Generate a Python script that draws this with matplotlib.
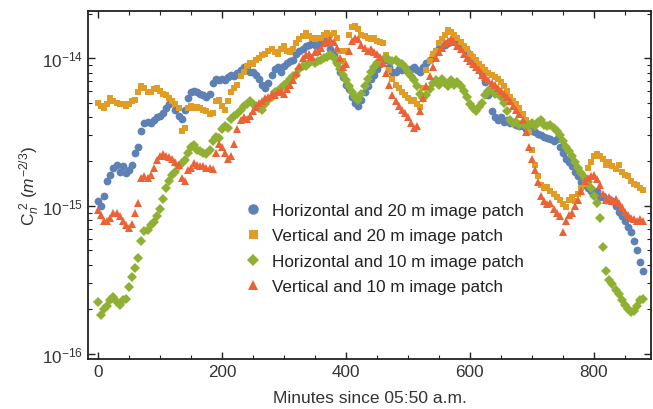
import matplotlib.pyplot as plt
import numpy as np
from matplotlib.ticker import MultipleLocator, FixedLocator, NullFormatter

plt.rcParams['font.family'] = ['Liberation Sans', 'DejaVu Sans']
plt.rcParams['mathtext.fontset'] = 'custom'
plt.rcParams['mathtext.rm'] = 'Liberation Sans'
plt.rcParams['mathtext.it'] = 'Liberation Sans:italic'
plt.rcParams['mathtext.bf'] = 'Liberation Sans:bold'

# sample times (one point every 5 minutes)
minutes = np.arange(0, 885, 5)

# log10 of Cn^2
h20_log = [
    -14.97, -15.00, -14.93, -14.83, -14.79, -14.74, -14.72, -14.77, -14.73, -14.78,
    -14.76, -14.72, -14.64, -14.60, -14.49, -14.44, -14.43, -14.44, -14.42, -14.40,
    -14.39, -14.37, -14.34, -14.31, -14.30, -14.35, -14.39, -14.41, -14.35, -14.27,
    -14.23, -14.22, -14.23, -14.24, -14.25, -14.26,
    -14.24, -14.17, -14.14, -14.15, -14.14, -14.15, -14.13, -14.11, -14.12, -14.10,
    -14.08, -14.06, -14.05, -14.09, -14.09, -14.11, -14.14, -14.18, -14.20, -14.17,
    -14.11, -14.07, -14.06, -14.09, -14.05, -14.03, -14.02, -14.01, -13.97, -13.95,
    -13.94, -13.92, -13.91, -13.90, -13.91, -13.92,
    -13.89, -13.88, -13.89, -13.94, -13.98, -14.03, -14.09, -14.13, -14.18, -14.21,
    -14.26, -14.30, -14.32, -14.28, -14.23, -14.19, -14.14, -14.11, -14.07, -14.04,
    -14.01, -14.01, -14.06, -14.09, -14.09, -14.07, -14.08, -14.07, -14.09, -14.07,
    -14.06, -14.08, -14.09, -14.06, -14.03, -14.01,
    -13.98, -13.95, -13.93, -13.92, -13.91, -13.90, -13.88, -13.88, -13.90, -13.92,
    -13.94, -13.96, -13.98, -14.01, -14.03, -14.06, -14.10, -14.16, -14.25, -14.36,
    -14.40, -14.42, -14.40, -14.43, -14.42, -14.44, -14.43, -14.45, -14.46, -14.46,
    -14.48, -14.47, -14.49, -14.50, -14.51, -14.52,
    -14.53, -14.54, -14.55, -14.56, -14.55, -14.60, -14.64, -14.68, -14.70, -14.73,
    -14.77, -14.80, -14.84, -14.86, -14.88, -14.90, -14.91, -14.90, -14.94, -14.93,
    -14.96, -14.95, -14.97, -15.00, -15.04, -15.07, -15.10, -15.14, -15.18, -15.24,
    -15.30, -15.38, -15.44]

v20_log = [
    -14.30, -14.32, -14.34, -14.31, -14.27, -14.29, -14.30, -14.31, -14.31, -14.32,
    -14.31, -14.29, -14.28, -14.23, -14.19, -14.20, -14.23, -14.23, -14.21, -14.20,
    -14.22, -14.24, -14.25, -14.27, -14.29, -14.31, -14.34, -14.49, -14.47, -14.34,
    -14.32, -14.34, -14.33, -14.34, -14.35, -14.36,
    -14.38, -14.37, -14.29, -14.28, -14.32, -14.35, -14.29, -14.23, -14.20, -14.18,
    -14.12, -14.09, -14.05, -14.03, -14.04, -14.01, -14.00, -13.98, -13.97, -13.95,
    -13.94, -13.96, -13.97, -13.94, -13.92, -13.95, -13.96, -13.94, -13.90, -13.87,
    -13.85, -13.83, -13.85, -13.86, -13.87, -13.86,
    -13.86, -13.84, -13.83, -13.84, -13.83, -13.86, -13.95, -14.02, -13.95, -13.84,
    -13.79, -13.78, -13.80, -13.84, -13.85, -13.86, -13.87, -13.86, -13.88, -13.89,
    -13.90, -13.98, -14.08, -14.14, -14.18, -14.20, -14.23, -14.25, -14.27, -14.29,
    -14.28, -14.31, -14.33, -14.20, -14.08, -14.02,
    -13.97, -13.95, -13.90, -13.87, -13.84, -13.81, -13.82, -13.84, -13.86, -13.89,
    -13.92, -13.94, -13.97, -13.99, -14.01, -14.04, -14.06, -14.08, -14.10, -14.11,
    -14.13, -14.14, -14.16, -14.19, -14.22, -14.26, -14.29, -14.31, -14.34, -14.38,
    -14.42, -14.50, -14.62, -14.72, -14.80, -14.86,
    -14.88, -14.87, -14.90, -14.92, -14.94, -14.96, -14.99, -15.01, -14.96, -14.94,
    -14.97, -14.92, -14.88, -14.85, -14.74, -14.70, -14.66, -14.65, -14.66, -14.68,
    -14.72, -14.70, -14.73, -14.75, -14.72, -14.77, -14.79, -14.80, -14.83, -14.85,
    -14.86, -14.88, -14.89]

h10_log = [
    -15.65, -15.74, -15.70, -15.68, -15.64, -15.62, -15.65, -15.67, -15.64, -15.63,
    -15.55, -15.48, -15.42, -15.35, -15.24, -15.17, -15.16, -15.13, -15.11, -15.07,
    -15.02, -14.95, -14.88, -14.83, -14.79, -14.77, -14.73, -14.71, -14.69, -14.64,
    -14.60, -14.59, -14.62, -14.63, -14.64, -14.65,
    -14.62, -14.56, -14.53, -14.54, -14.48, -14.46, -14.47, -14.41, -14.39, -14.38,
    -14.35, -14.32, -14.31, -14.29, -14.31, -14.32, -14.34, -14.35, -14.31, -14.28,
    -14.26, -14.23, -14.22, -14.20, -14.18, -14.17, -14.14, -14.12, -14.11, -14.07,
    -14.05, -14.05, -14.03, -14.02, -14.03, -14.02,
    -14.01, -14.00, -13.99, -13.98, -14.00, -14.03, -14.07, -14.11, -14.15, -14.19,
    -14.23, -14.26, -14.28, -14.24, -14.19, -14.14, -14.09, -14.06, -14.03, -14.02,
    -14.01, -14.00, -14.01, -14.02, -14.01, -14.03, -14.04, -14.06, -14.09, -14.12,
    -14.15, -14.19, -14.24, -14.27, -14.25, -14.21,
    -14.17, -14.15, -14.18, -14.14, -14.17, -14.19, -14.15, -14.18, -14.16, -14.19,
    -14.22, -14.26, -14.31, -14.34, -14.36, -14.33, -14.30, -14.25, -14.22, -14.21,
    -14.24, -14.22, -14.26, -14.30, -14.36, -14.42, -14.44, -14.43, -14.45, -14.44,
    -14.46, -14.45, -14.44, -14.46, -14.43, -14.42,
    -14.45, -14.46, -14.45, -14.47, -14.49, -14.52, -14.56, -14.60, -14.63, -14.66,
    -14.70, -14.74, -14.78, -14.81, -14.84, -14.88, -14.93, -14.98, -15.08, -15.28,
    -15.44, -15.50, -15.53, -15.57, -15.60, -15.64, -15.67, -15.70, -15.72, -15.71,
    -15.68, -15.64, -15.63]

v10_log = [
    -15.03, -15.06, -15.10, -15.10, -15.08, -15.05, -15.05, -15.07, -15.10, -15.13,
    -15.15, -15.12, -15.05, -14.98, -14.81, -14.80, -14.81, -14.79, -14.74, -14.69,
    -14.66, -14.65, -14.66, -14.67, -14.68, -14.70, -14.72, -14.81, -14.83, -14.76,
    -14.74, -14.71, -14.72, -14.73, -14.73, -14.74,
    -14.74, -14.75, -14.64, -14.58, -14.60, -14.64, -14.68, -14.66, -14.58, -14.48,
    -14.42, -14.40, -14.41, -14.39, -14.36, -14.33, -14.30, -14.29, -14.27, -14.26,
    -14.24, -14.25, -14.23, -14.22, -14.24, -14.21, -14.18, -14.15, -14.10, -14.05,
    -14.00, -13.98, -13.97, -13.99, -13.96, -13.95,
    -13.93, -13.90, -13.88, -13.87, -13.89, -13.93, -14.00, -14.06, -14.04, -13.95,
    -13.88, -13.86, -13.87, -13.91, -13.93, -13.95, -13.94, -13.96, -13.97, -13.99,
    -14.03, -14.10, -14.18, -14.25, -14.29, -14.32, -14.35, -14.37, -14.40, -14.44,
    -14.47, -14.46, -14.36, -14.27, -14.19, -14.12,
    -14.06, -14.00, -13.96, -13.93, -13.90, -13.88, -13.87, -13.89, -13.92, -13.94,
    -13.97, -14.00, -14.02, -14.04, -14.06, -14.08, -14.11, -14.13, -14.15, -14.17,
    -14.18, -14.20, -14.22, -14.24, -14.26, -14.29, -14.32, -14.35, -14.38, -14.42,
    -14.50, -14.60, -14.68, -14.76, -14.84, -14.93,
    -14.97, -14.99, -14.98, -15.02, -15.05, -15.07, -15.18, -15.10, -15.06, -15.05,
    -15.00, -14.96, -14.90, -14.83, -14.81, -14.80, -14.79, -14.82, -14.86, -14.92,
    -14.96, -14.94, -14.97, -14.95, -14.98, -15.01, -15.04, -15.06, -15.08, -15.09,
    -15.10, -15.09, -15.10]

labels = ["Horizontal and 20 m image patch", "Vertical and 20 m image patch",
          "Horizontal and 10 m image patch", "Vertical and 10 m image patch"]
series = [h20_log, v20_log, h10_log, v10_log]
colors = ['#5E81B5', '#E19C24', '#8FB032', '#EB6235']
markers = ['o', 's', 'D', '^']
msizes = [5.6, 4.8, 4.7, 5.8]

fig = plt.figure(figsize=(6.53, 4.10), dpi=100)
ax = fig.add_axes([0.1348, 0.122, 0.862, 0.8476])

for vals, lab, c, m, ms in zip(series, labels, colors, markers, msizes):
    ax.plot(minutes, 10.0 ** np.array(vals), linestyle='none', marker=m, ms=ms,
            color=c, markeredgewidth=0, label=lab)

ax.set_yscale('log')
ax.set_xlim(-16, 892)
ax.set_ylim(10 ** -16.037, 10 ** -13.683)

# ticks on all four sides, pointing in
ax.xaxis.set_major_locator(MultipleLocator(200))
ax.xaxis.set_minor_locator(MultipleLocator(50))
ax.yaxis.set_major_locator(FixedLocator([1e-16, 1e-15, 1e-14]))
minor_y = [k * 10.0 ** e for e in (-16, -15, -14) for k in range(2, 10)]
ax.yaxis.set_minor_locator(FixedLocator([v for v in minor_y if v < 10 ** -13.683]))
ax.yaxis.set_minor_formatter(NullFormatter())

ax.tick_params(which='both', direction='in', top=True, right=True,
               labelsize=12.3, labelcolor='#333333', color='#222222')
ax.tick_params(which='major', length=5, width=1.0)
ax.tick_params(which='minor', length=3, width=0.8)
for sp in ax.spines.values():
    sp.set_linewidth(1.3)
    sp.set_color('#222222')

ax.set_xlabel('Minutes since 05:50 a.m.', fontsize=12.5, color='#333333', labelpad=8)
ax.set_ylabel(r'$\mathrm{C}_n^{\ 2}\ (m^{-2/3})$', fontsize=12.5, color='#333333', labelpad=0)

leg = ax.legend(loc='center left', bbox_to_anchor=(0.278, 0.318), frameon=False,
                fontsize=12.3, handlelength=1.0, handletextpad=0.6, labelspacing=0.6,
                markerscale=1.35, borderpad=0, borderaxespad=0)
for t in leg.get_texts():
    t.set_color('#222222')

plt.savefig('out.png', dpi=100)
plt.close('all')
